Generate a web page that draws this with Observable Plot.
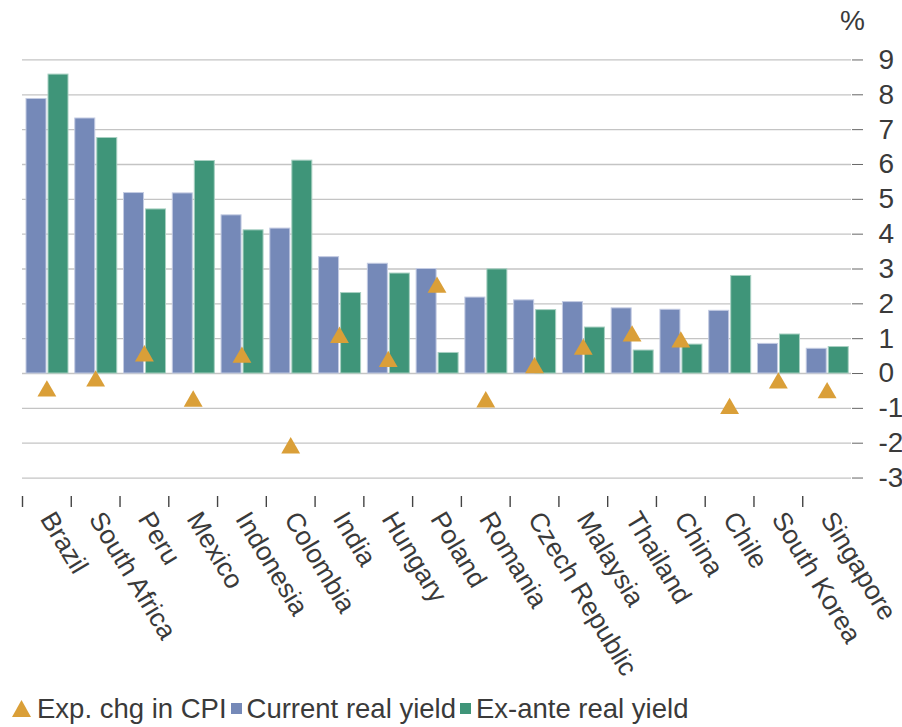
<!DOCTYPE html>
<html><head><meta charset="utf-8">
<script src="https://cdn.jsdelivr.net/npm/d3@7"></script>
<script src="https://cdn.jsdelivr.net/npm/@observablehq/plot@0.6"></script>
<style>
body{margin:0;background:#fff;font-family:"Liberation Sans",Arial,sans-serif;}
#chart svg{display:block}
#legend{display:flex;align-items:center;height:37px;padding-left:12px;font-size:27.5px;line-height:30px;color:#3a3a3a;white-space:nowrap}
#legend .sq{display:inline-block;width:11px;height:11px;margin:0 5px 0 4px}
#legend svg{margin-right:6px}
</style></head><body><div id="chart"></div>
<div id="legend">
<svg width="19" height="17"><path d="M9.5,0L19,17L0,17Z" fill="#DA9F38"/></svg><span>Exp. chg in CPI</span><span class="sq" style="background:#7589B8"></span><span>Current real yield</span><span class="sq" style="background:#3F9579"></span><span>Ex-ante real yield</span>
</div>
<script>
const countries = ["Brazil","South Africa","Peru","Mexico","Indonesia","Colombia","India","Hungary","Poland","Romania","Czech Republic","Malaysia","Thailand","China","Chile","South Korea","Singapore"];
const currentReal = [7.88,7.32,5.18,5.17,4.54,4.16,3.34,3.15,3.00,2.18,2.10,2.05,1.87,1.83,1.80,0.85,0.71];
const exAnteReal = [8.58,6.76,4.71,6.10,4.11,6.11,2.31,2.87,0.59,2.99,1.82,1.32,0.66,0.83,2.80,1.12,0.76];
const expChgCPI = [-0.42,-0.13,0.59,-0.71,0.55,-2.05,1.12,0.43,2.56,-0.73,0.25,0.78,1.16,0.99,-0.92,-0.19,-0.47];
const yTicks = [-3,-2,-1,0,1,2,3,4,5,6,7,8,9];

const data = countries.map((c, i) => ({country: c, current: currentReal[i], exante: exAnteReal[i], cpi: expChgCPI[i]}));
const W = 902, ML = 22, MR = 51;
const bw = (W - ML - MR) / countries.length;

const chart = Plot.plot({
  width: W, height: 690,
  marginLeft: ML, marginRight: MR, marginTop: 41, marginBottom: 194,
  style: {fontFamily: "Liberation Sans, Arial, sans-serif", color: "#3a3a3a", background: "white"},
  x: {domain: countries, padding: 0, round: false, label: null},
  y: {domain: [-3.53, 9.53], label: null},
  marks: [
    Plot.gridY(yTicks, {stroke: "#c4c4c4", strokeOpacity: 1, strokeWidth: 1.3}),
    Plot.barY(data, {x: "country", y: "current", fill: "#7589B8", stroke: "#c3cbe2", strokeWidth: 1, insetLeft: 4, insetRight: bw - 24}),
    Plot.barY(data, {x: "country", y: "exante", fill: "#3F9579", stroke: "#a8d0c2", strokeWidth: 1, insetLeft: 26, insetRight: bw - 46}),
    Plot.dot(data, {x: "country", y: "cpi", symbol: "triangle", r: 7, fill: "#DA9F38", dy: 3}),
    Plot.axisX({tickSize: 0, text: null, line: true, stroke: "#bdbdbd", strokeWidth: 1.3}),
    Plot.axisX({tickSize: 11, text: null, dx: -bw / 2, stroke: "#444", strokeWidth: 1.4}),
    Plot.axisX({tickSize: 0, tickPadding: 18, tickRotate: 59, fontSize: 26.5, fill: "#3a3a3a"}),
    Plot.axisY({anchor: "right", tickSize: 0, text: null, line: true, stroke: "#bdbdbd", strokeWidth: 1.3}),
    Plot.axisY(yTicks, {anchor: "right", tickSize: 11, tickPadding: 16, tickFormat: d => String(d), fontSize: 28, stroke: "#666", fill: "#3a3a3a"}),
    Plot.text(["%"], {frameAnchor: "top-right", dx: 1, dy: -12, fontSize: 28, lineAnchor: "bottom", textAnchor: "middle", fill: "#3a3a3a"})
  ]
});
document.getElementById("chart").appendChild(chart);
</script>
</body></html>
